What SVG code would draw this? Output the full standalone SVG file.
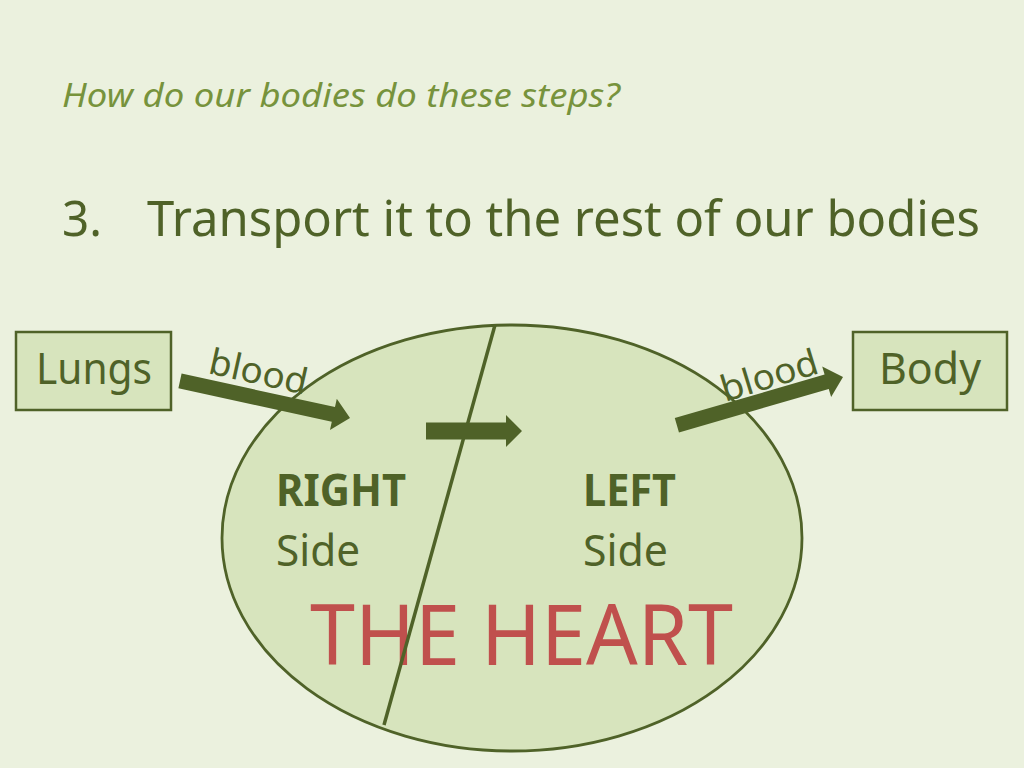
<svg xmlns="http://www.w3.org/2000/svg" width="1024" height="768" viewBox="0 0 1024 768">
<defs>
<style>
.t{font-family:"Noto Sans","Open Sans",sans-serif;fill:#4F6228}
.box{fill:#D7E4BD;stroke:#4F6228;stroke-width:2.5}
.arr{fill:#4F6228}
</style>
</defs>
<rect width="1024" height="768" fill="#EBF1DE"/>
<text class="t" x="62" y="107" font-size="32" font-style="italic" style="fill:#77933C" textLength="558" lengthAdjust="spacingAndGlyphs">How do our bodies do these steps?</text>
<text class="t" x="62" y="236" font-size="50" textLength="40" lengthAdjust="spacingAndGlyphs">3.</text>
<text class="t" x="147" y="236" font-size="50" textLength="833" lengthAdjust="spacingAndGlyphs">Transport it to the rest of our bodies</text>

<g id="heart">
<ellipse cx="512" cy="538" rx="290" ry="213" fill="#D7E4BD" stroke="#4F6228" stroke-width="2.8"/>
<text class="t" x="276" y="506" font-size="45" font-weight="bold" textLength="130" lengthAdjust="spacingAndGlyphs">RIGHT</text>
<text class="t" x="276" y="566" font-size="44" textLength="84" lengthAdjust="spacingAndGlyphs">Side</text>
<text class="t" x="583" y="506" font-size="45" font-weight="bold" textLength="93" lengthAdjust="spacingAndGlyphs">LEFT</text>
<text class="t" x="583" y="566" font-size="44" textLength="85" lengthAdjust="spacingAndGlyphs">Side</text>
<text class="t" x="310" y="665" font-size="84" style="fill:#C0504D" textLength="423" lengthAdjust="spacingAndGlyphs">THE HEART</text>
<line x1="495" y1="325" x2="384" y2="725" stroke="#4F6228" stroke-width="3.5"/>
</g>

<g id="lungs">
<rect class="box" x="16" y="332" width="155" height="78"/>
<text class="t" x="36" y="384" font-size="43" textLength="116" lengthAdjust="spacingAndGlyphs">Lungs</text>
</g>

<g id="body">
<rect class="box" x="853" y="332" width="154" height="78"/>
<text class="t" x="879" y="384" font-size="43" textLength="102" lengthAdjust="spacingAndGlyphs">Body</text>
</g>

<g id="connectors">
<g transform="translate(350,418) rotate(12.3)">
<path class="arr" d="M-174,-7.5 L-17,-7.5 L-17,-16 L0,0 L-17,16 L-17,7.5 L-174,7.5 Z"/>
</g>
<text class="t" x="0" y="0" font-size="36" transform="translate(207,373) rotate(12.6)" textLength="100" lengthAdjust="spacingAndGlyphs">blood</text>
<path class="arr" d="M426,422.5 L506,422.5 L506,415 L522,431 L506,447 L506,439.5 L426,439.5 Z"/>
<g transform="translate(843,377) rotate(-16.2)">
<path class="arr" d="M-173,-7.5 L-17,-7.5 L-17,-16 L0,0 L-17,16 L-17,7.5 L-173,7.5 Z"/>
</g>
<text class="t" x="0" y="0" font-size="36" transform="translate(725,402) rotate(-17)" textLength="100" lengthAdjust="spacingAndGlyphs">blood</text>
</g>
</svg>
